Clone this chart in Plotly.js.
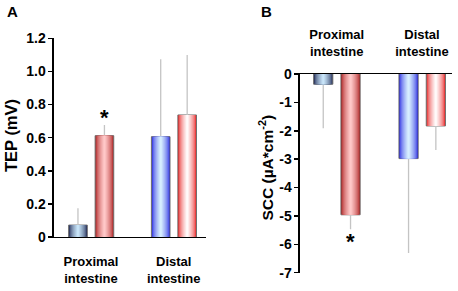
<!DOCTYPE html>
<html>
<head>
<meta charset="utf-8">
<script src="https://cdn.plot.ly/plotly-3.0.1.min.js"></script>
<style>html,body{margin:0;padding:0;background:#fff;}#chart{width:458px;height:291px;}</style>
</head>
<body>
<div id="chart"></div>
<script>
// ---- data ----
const categories = ["Proximal<br>intestine", "Distal<br>intestine"];
// Panel A: TEP (mV)
const tepControl = [0.072, 0.606];
const tepControlErr = [0.101, 0.467];
const tepTreated = [0.612, 0.737];
const tepTreatedErr = [0.064, 0.362];
const tepTickVals = [0, 0.2, 0.4, 0.6, 0.8, 1.0, 1.2];
const tepTickText = ["0", "0.2", "0.4", "0.6", "0.8", "1.0", "1.2"];
// Panel B: SCC (µA*cm^-2)
const sccControl = [-0.36, -2.98];
const sccControlErr = [1.55, 3.33];
const sccTreated = [-4.96, -1.83];
const sccTreatedErr = [0.51, 0.85];
const sccTickVals = [0, -1, -2, -3, -4, -5, -6, -7];
const sccTickText = ["0", "-1", "-2", "-3", "-4", "-5", "-6", "-7"];

// ---- styling ----
const FONT = "Liberation Sans, Arial, sans-serif";
const controlEdge = [[26, 36, 80], [34, 34, 224]];
const controlCenter = [[200, 228, 248], [214, 238, 255]];
const treatedEdge = [[168, 24, 24], [232, 32, 32]];
const treatedCenter = [[255, 200, 200], [255, 250, 250]];
const N = 10;

function mix(a, b, t) {
  return 'rgb(' + a.map((v, i) => Math.round(v + (b[i] - v) * t)).join(',') + ')';
}

function gradientBars(xa, ya, values, errs, edges, centers, offset, width, negative) {
  const traces = [];
  for (let k = 0; k < N; k++) {
    const w = width * (1 - k / N);
    const t = Math.pow(k / (N - 1), 0.6);
    const tr = {
      type: 'bar', x: categories, y: values, xaxis: xa, yaxis: ya,
      offset: offset + (width - w) / 2, width: w,
      marker: {
        color: values.map((_, i) => mix(edges[i], centers[i], t)),
        line: {width: k === 0 ? 1 : 0, color: '#6e6e6e'}
      },
      hoverinfo: 'skip'
    };
    if (k === 0) {
      tr.error_y = negative
        ? {type: 'data', symmetric: false, array: values.map(() => 0), arrayminus: errs, width: 0, thickness: 1.3, color: '#c4c4c4'}
        : {type: 'data', symmetric: false, array: errs, arrayminus: values.map(() => 0), width: 0, thickness: 1.3, color: '#c4c4c4'};
    }
    traces.push(tr);
  }
  return traces;
}

const W = 0.225, OFF1 = -0.27, OFF2 = 0.05;
const data = [].concat(
  gradientBars('x', 'y', tepControl, tepControlErr, controlEdge, controlCenter, OFF1, W, false),
  gradientBars('x', 'y', tepTreated, tepTreatedErr, treatedEdge, treatedCenter, OFF2, W, false),
  gradientBars('x2', 'y2', sccControl, sccControlErr, controlEdge, controlCenter, OFF1, W, true),
  gradientBars('x2', 'y2', sccTreated, sccTreatedErr, treatedEdge, treatedCenter, OFF2, W, true)
);

const tickFont = {family: FONT, size: 14, color: '#000', weight: 700};
const catFont = {family: FONT, size: 13, color: '#000', weight: 700};
const yCommon = {
  showline: true, linecolor: '#000', linewidth: 1.5, ticks: 'outside', ticklen: 4,
  tickwidth: 1.5, tickcolor: '#000', showgrid: false, zeroline: false, tickfont: tickFont,
  automargin: false, fixedrange: true
};
const xCommon = {
  type: 'category', showline: true, linecolor: '#000', linewidth: 1.5, ticks: '',
  showgrid: false, zeroline: false, tickfont: catFont, automargin: false, fixedrange: true
};

const layout = {
  width: 458, height: 291,
  margin: {l: 0, r: 0, t: 0, b: 0},
  paper_bgcolor: '#fff', plot_bgcolor: '#fff',
  showlegend: false, barmode: 'overlay',
  font: {family: FONT, color: '#000'},
  xaxis: Object.assign({}, xCommon, {domain: [0.1179, 0.4498], anchor: 'y', range: [-0.447, 1.39], ticklabelstandoff: 12}),
  yaxis: Object.assign({}, yCommon, {domain: [0.1856, 0.8684], anchor: 'x', range: [0, 1.2], tickvals: tepTickVals, ticktext: tepTickText}),
  xaxis2: Object.assign({}, xCommon, {domain: [0.655, 0.9862], anchor: 'y2', side: 'top', range: [-0.43, 1.348], ticklabelstandoff: 11}),
  yaxis2: Object.assign({}, yCommon, {domain: [0.0629, 0.7457], anchor: 'x2', range: [-7, 0], tickvals: sccTickVals, ticktext: sccTickText}),
  annotations: [
    {text: 'A', xref: 'paper', yref: 'paper', x: 12 / 458, y: 1 - 12 / 291, xanchor: 'center', yanchor: 'middle', showarrow: false, font: {family: FONT, size: 15, weight: 700}},
    {text: 'B', xref: 'paper', yref: 'paper', x: 266 / 458, y: 1 - 12 / 291, xanchor: 'center', yanchor: 'middle', showarrow: false, font: {family: FONT, size: 15, weight: 700}},
    {text: 'TEP (mV)', xref: 'paper', yref: 'paper', x: 11 / 458, y: 1 - 136 / 291, xanchor: 'center', yanchor: 'middle', textangle: -90, showarrow: false, font: {family: FONT, size: 16.5, weight: 700}},
    {text: 'SCC (µA*cm<sup>-2</sup>)', xref: 'paper', yref: 'paper', x: 266.5 / 458, y: 1 - 168 / 291, xanchor: 'center', yanchor: 'middle', textangle: -90, showarrow: false, font: {family: FONT, size: 15.5, weight: 700}},
    {text: '*', xref: 'x', yref: 'y', x: OFF2 + W / 2, y: tepTreated[0] + tepTreatedErr[0], yanchor: 'bottom', yshift: -7, showarrow: false, font: {family: FONT, size: 22, weight: 700}},
    {text: '*', xref: 'x2', yref: 'y2', x: OFF2 + W / 2, y: sccTreated[0] - sccTreatedErr[0], yanchor: 'top', yshift: 2, showarrow: false, font: {family: FONT, size: 22, weight: 700}}
  ]
};

Plotly.newPlot('chart', data, layout, {displayModeBar: false, staticPlot: true});
</script>
</body>
</html>
